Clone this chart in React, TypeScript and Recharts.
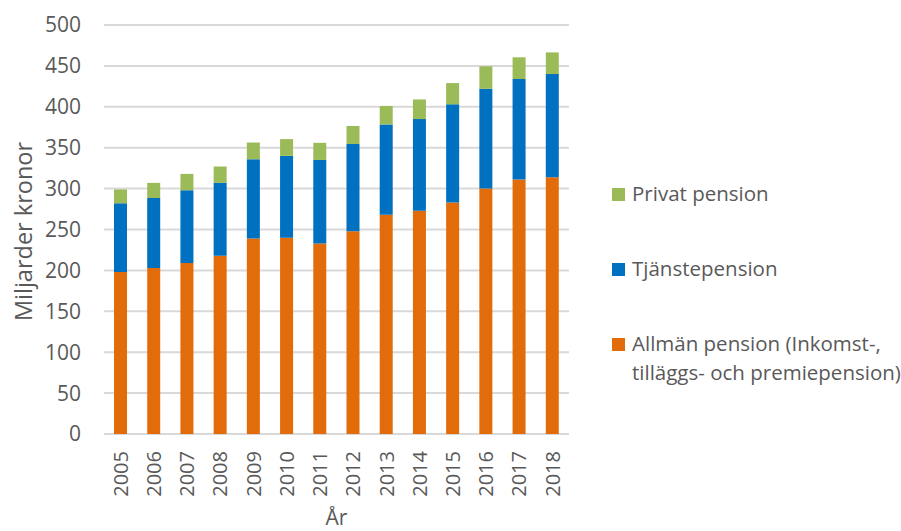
import React from 'react'
import {
  BarChart,
  Bar,
  XAxis,
  YAxis,
  CartesianGrid,
} from 'recharts'

const YEARS = ['2005', '2006', '2007', '2008', '2009', '2010', '2011', '2012', '2013', '2014', '2015', '2016', '2017', '2018']
const ALLMAN = [198, 203, 209, 218, 239, 240, 233, 248, 268, 273, 283, 300, 311, 314]
const TJANSTE = [84, 85.5, 89, 89, 97, 100, 102, 106.5, 110.5, 112, 120, 122, 123, 126]
const PRIVAT = [17, 18.5, 20, 20, 20.5, 20.5, 21, 22, 22.5, 24, 26, 27.5, 26.5, 26.5]
const Y_TICKS = [0, 50, 100, 150, 200, 250, 300, 350, 400, 450, 500]

const SERIES = [
  { key: 'allman', name: 'Allmän pension (Inkomst-, tilläggs- och premiepension)', lines: ['Allmän pension (Inkomst-,', 'tilläggs- och premiepension)'], color: '#E36C0A' },
  { key: 'tjanste', name: 'Tjänstepension', lines: ['Tjänstepension'], color: '#0070C0' },
  { key: 'privat', name: 'Privat pension', lines: ['Privat pension'], color: '#9BBB59' },
]

const TEXT = '#595959'
const FONT = '"Open Sans", sans-serif'

const chartData = YEARS.map((year, i) => ({
  year,
  allman: ALLMAN[i],
  tjanste: TJANSTE[i],
  privat: PRIVAT[i],
}))

function YearTick({ x, y, payload }: { x: number; y: number; payload: { value: string } }) {
  return (
    <g transform={`translate(${x},${y})`}>
      <text
        transform="rotate(-90)"
        textAnchor="end"
        dy="0.36em"
        fill={TEXT}
        fontSize={20}
        fontFamily={FONT}
      >
        {payload.value}
      </text>
    </g>
  )
}

function PensionLegend() {
  // legend goes top-down in reverse stacking order, like the Excel original
  const items = [...SERIES].reverse()
  return (
    <div style={{ position: 'absolute', left: 612, top: 179, fontFamily: FONT, fontSize: 20.5, color: TEXT }}>
      {items.map((s) => (
        <div key={s.key} style={{ display: 'flex', alignItems: 'flex-start', marginBottom: 46 }}>
          <span
            style={{
              display: 'inline-block',
              width: 13,
              height: 13,
              background: s.color,
              marginTop: 9,
              marginRight: 7,
              flex: 'none',
            }}
          />
          <div style={{ lineHeight: '29px', whiteSpace: 'nowrap' }}>
            {s.lines.map((l) => (
              <div key={l}>{l}</div>
            ))}
          </div>
        </div>
      ))}
    </div>
  )
}

export default function App() {
  return (
    <div style={{ position: 'absolute', left: 0, top: 0, width: 901, height: 531, overflow: 'hidden', background: '#fff' }}>
      <BarChart
        width={901}
        height={531}
        data={chartData}
        margin={{ top: 25, right: 332, left: 0, bottom: 0 }}
        barSize={13}
      >
        <CartesianGrid vertical={false} stroke="#d9d9d9" strokeWidth={2} />
        <XAxis
          dataKey="year"
          axisLine={false}
          tickLine={false}
          height={97}
          interval={0}
          tickMargin={11}
          tick={YearTick}
          label={{ value: 'År', position: 'insideBottom', offset: 6, fill: TEXT, fontSize: 21, fontFamily: FONT }}
        />
        <YAxis
          domain={[0, 500]}
          ticks={Y_TICKS}
          width={104}
          axisLine={false}
          tickLine={false}
          tickMargin={17}
          tick={{ fill: TEXT, fontSize: 21, fontFamily: FONT }}
          label={{ value: 'Miljarder kronor', angle: -90, position: 'center', dx: -28, dy: 2, fill: TEXT, fontSize: 23.5, fontFamily: FONT }}
        />
        {SERIES.map((s) => (
          <Bar
            key={s.key}
            dataKey={s.key}
            name={s.name}
            stackId="pension"
            fill={s.color}
            isAnimationActive={false}
          />
        ))}
      </BarChart>
      <PensionLegend />
    </div>
  )
}
